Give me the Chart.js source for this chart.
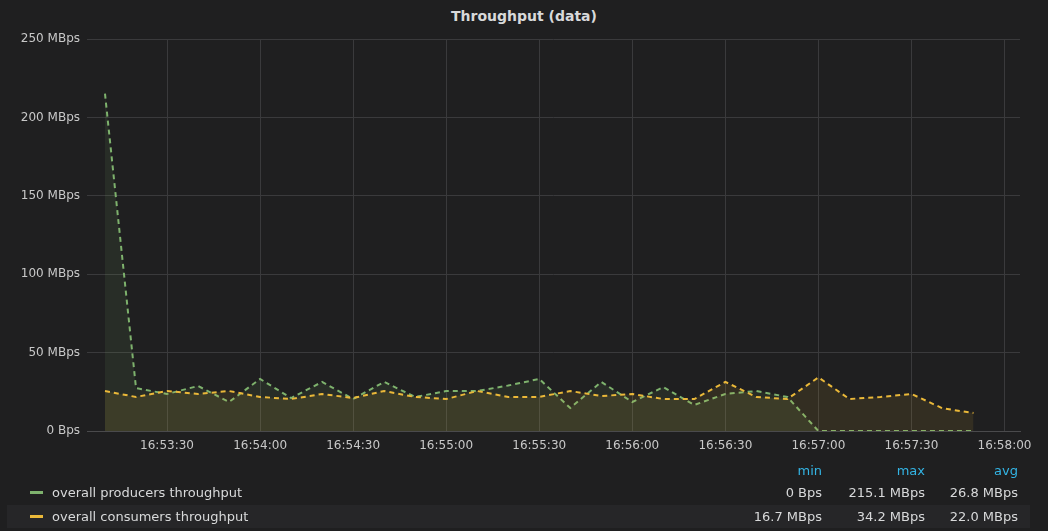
<!DOCTYPE html>
<html>
<head>
<meta charset="utf-8">
<script src="https://cdn.jsdelivr.net/npm/chart.js@4.4.1/dist/chart.umd.min.js"></script>
<style>
  html, body { margin: 0; padding: 0; background: #1f1f20; }
  body { width: 1048px; height: 531px; position: relative; overflow: hidden; font-family: "DejaVu Sans", sans-serif; }
  #title { position: absolute; left: 0; top: 8px; width: 1048px; text-align: center; color: #d8d9da; font-size: 14px; font-weight: bold; }
  #wrap { position: absolute; left: 0; top: 0; width: 1048px; height: 460px; }
  .row { position: absolute; left: 7px; width: 1023px; height: 23px; color: #d8d9da; font-size: 13px; }
  .row span { position: absolute; top: 4px; white-space: nowrap; }
  .sw { position: absolute; left: 23px; top: 10px; width: 13px; height: 3px; }
  .lbl { left: 45px; }
  .c1 { right: 208px; text-align: right; }
  .c2 { right: 105px; text-align: right; }
  .c3 { right: 12px; text-align: right; }
  .head { color: #33b5e5; }
</style>
</head>
<body>
<div id="title">Throughput (data)</div>
<div id="wrap"><canvas id="myChart"></canvas></div>

<div class="row" style="top:459px;">
  <span class="c1 head">min</span><span class="c2 head">max</span><span class="c3 head">avg</span>
</div>
<div class="row" style="top:481px;">
  <div class="sw" style="background:#7eb26d"></div>
  <span class="lbl">overall producers throughput</span>
  <span class="c1">0 Bps</span><span class="c2">215.1 MBps</span><span class="c3">26.8 MBps</span>
</div>
<div class="row" style="top:505px; background:#262628;">
  <div class="sw" style="background:#eab839"></div>
  <span class="lbl">overall consumers throughput</span>
  <span class="c1">16.7 MBps</span><span class="c2">34.2 MBps</span><span class="c3">22.0 MBps</span>
</div>

<script>
window.onload = function () {

    // seconds after 16:53:00, one sample every 10 s
    const times = [10, 20, 30, 40, 50, 60, 70, 80, 90, 100, 110, 120, 130, 140, 150,
                   160, 170, 180, 190, 200, 210, 220, 230, 240, 250, 260, 270, 280, 290];

    // MBps
    const producers = [215.1, 27.4, 23.6, 28.7, 18.5, 33.2, 21.0, 31.3, 20.4, 31.3,
                       21.7, 25.5, 25.5, 29.0, 33.2, 14.7, 31.3, 18.5, 28.0, 16.6,
                       23.6, 25.5, 21.7, 0, 0, 0, 0, 0, 0];
    const consumers = [25.5, 21.7, 25.5, 23.6, 25.5, 21.7, 20.4, 23.6, 21.0, 25.5,
                       21.7, 20.4, 25.5, 21.7, 21.7, 25.5, 22.3, 23.6, 20.4, 20.4,
                       31.3, 21.7, 20.4, 34.2, 20.4, 21.7, 23.6, 14.5, 11.5];

    const yTicks = [0, 50, 100, 150, 200, 250];
    const xTicks = [30, 60, 90, 120, 150, 180, 210, 240, 270, 300];

    function pts(arr) {
        return arr.map(function (v, i) { return { x: times[i], y: v }; });
    }

    function clock(s) {
        let t = 16 * 3600 + 53 * 60 + s;
        let h = Math.floor(t / 3600), m = Math.floor((t % 3600) / 60), sec = t % 60;
        return h + ':' + String(m).padStart(2, '0') + ':' + String(sec).padStart(2, '0');
    }

    const ctx = document.getElementById('myChart');
    const tickFont = { family: 'DejaVu Sans', size: 12 };

    new Chart(ctx, {
        type: 'line',
        data: {
            datasets: [
                {
                    label: 'overall producers throughput',
                    data: pts(producers),
                    borderColor: '#7eb26d',
                    backgroundColor: 'rgba(126,178,109,0.1)',
                    borderWidth: 2,
                    borderDash: [5, 4],
                    fill: 'origin',
                    pointRadius: 0,
                    tension: 0,
                    order: 2
                },
                {
                    label: 'overall consumers throughput',
                    data: pts(consumers),
                    borderColor: '#eab839',
                    backgroundColor: 'rgba(234,184,57,0.1)',
                    borderWidth: 2,
                    borderDash: [5, 4],
                    fill: 'origin',
                    pointRadius: 0,
                    tension: 0,
                    order: 1
                }
            ]
        },
        options: {
            responsive: true,
            maintainAspectRatio: false,
            animation: false,
            layout: { padding: { top: 39, right: 28, left: 0, bottom: 0 } },
            plugins: {
                legend: { display: false },
                tooltip: { enabled: false }
            },
            scales: {
                x: {
                    type: 'linear',
                    min: 4.2,
                    max: 305,
                    afterFit: function (s) { s.height = 29; },
                    afterBuildTicks: function (s) { s.ticks = xTicks.map(function (v) { return { value: v }; }); },
                    grid: { color: '#3a3a3c', drawTicks: false },
                    border: { color: '#4a4a4c' },
                    ticks: {
                        autoSkip: false,
                        maxRotation: 0,
                        padding: 8,
                        color: '#c8c8c8',
                        font: tickFont,
                        callback: function (v) { return clock(v); }
                    }
                },
                y: {
                    min: 0,
                    max: 250,
                    afterFit: function (s) { s.width = 87; },
                    afterBuildTicks: function (s) { s.ticks = yTicks.map(function (v) { return { value: v }; }); },
                    grid: { color: '#3a3a3c', drawTicks: false },
                    border: { display: false },
                    ticks: {
                        padding: 7,
                        color: '#c8c8c8',
                        font: tickFont,
                        callback: function (v) { return v === 0 ? '0 Bps' : v + ' MBps'; }
                    }
                }
            }
        }
    });
};
</script>
</body>
</html>
